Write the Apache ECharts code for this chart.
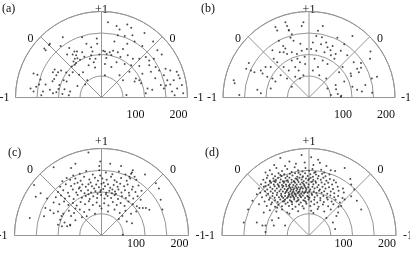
<!DOCTYPE html>
<html><head><meta charset="utf-8">
<script src="https://cdn.jsdelivr.net/npm/echarts@6/dist/echarts.min.js"></script>
<style>html,body{margin:0;padding:0;background:#fff}#c{width:410px;height:253px}</style>
</head><body><div id="c"></div>
<script>
// panel labels and tick labels
const panelLabels = ['(a)', '(b)', '(c)', '(d)'];
const angleTicks = [0, 45, 90, 135, 180];
const angleTickLabels = ['-1', '0', '+1', '0', '-1'];
const radiusTickLabels = [100, 200];
const radiusMax = 200;

// points as [horizontal component, vertical component] in radial units (0..200)
const pointsA = [
[-120,125],[-133,114],[-130,110],[-63,107],[-57,107],[-67,100],[-59,98],[-62,90],[-56,91],[-65,84],[-59,80],[-69,72],[-62,76],
[-24,117],[-21,107],[-24,98],[-14,90],[-18,82],[-27,90],[-109,65],[-113,59],[-105,52],[-110,43],[-114,38],[-101,59],[-94,63],
[-82,58],[-88,40],[-81,37],[-67,59],[-75,52],[-158,56],[-149,53],[-142,42],[-152,25],[-130,30],[-136,14],[-158,14],[-165,21],
[-98,29],[-86,19],[-91,8],[-73,14],[-76,5],[-52,53],[-43,59],[-33,40],[-56,27],[-38,30],[-113,10],[-120,18],[-11,137],
[-145,30],[-140,5],[-100,20],[-105,12],[-50,88],[-45,105],[-40,95],[-30,75],[-15,70],[-80,100],[-95,120],[-75,115],[-35,125],
[-10,125],[-5,100],[-45,140],[-90,140],[-122,122],
[35,166],[42,158],[69,162],[54,143],[77,130],[4,109],[12,101],[19,105],[27,109],[38,105],[50,113],[44,94],[61,98],[73,90],
[88,90],[103,94],[111,86],[122,90],[8,78],[23,71],[35,82],[54,78],[69,75],[88,73],[111,75],[126,71],[134,63],[149,67],[160,63],
[145,52],[153,40],[168,40],[179,52],[187,29],[176,21],[164,14],[80,44],[88,40],[77,37],[92,33],[107,21],[118,18],[103,10],
[138,29],[145,21],[42,52],[50,40],[8,52],[58,6],[175,60],[182,45],[190,10],[170,5],[160,30],[150,28],[8,107],[11,92],[23,99],
[130,110],[140,100],[95,120],[60,125],[30,130],[115,60],[125,45],[95,55],[65,60],[120,130],[100,150],[60,170],[15,175],[38,145],[72,145]
];
const pointsB = [
[-51,166],[-47,157],[-40,147],[-43,139],[-36,132],[-70,132],[-17,166],[-55,114],[-68,105],[-59,105],[-51,101],[-40,105],[-28,101],
[-17,109],[-5,113],[-27,90],[-40,86],[-21,82],[-9,78],[-32,71],[-24,63],[-47,63],[-59,71],[-74,82],[-82,90],[-89,71],[-101,71],
[-112,63],[-108,56],[-127,59],[-135,63],[-146,67],[-97,48],[-85,44],[-78,37],[-66,52],[-51,44],[-32,48],[-21,44],[-13,52],[-40,25],
[-89,21],[-120,18],[-112,10],[-173,33],[-162,6],[-175,40],[-140,80],[-78,164],[-74,156],[-55,175],[-47,156],[-13,175],
[32,166],[21,155],[17,143],[66,139],[101,143],[82,124],[9,128],[28,124],[40,128],[43,117],[55,120],[74,109],[62,101],[51,98],
[36,105],[17,109],[5,113],[13,90],[32,86],[43,78],[59,90],[21,71],[9,63],[24,52],[40,44],[89,98],[104,82],[112,67],[116,59],
[97,56],[78,71],[70,59],[82,37],[62,29],[51,6],[74,2],[142,90],[146,44],[158,48],[112,18],[123,14],[131,29],[101,25],[43,21],
[143,107],[121,80],[121,69],[98,50],[147,11],[67,8],[75,4],[63,19],[-60,120],[-20,125],[-85,110],[-10,95],[30,140],[50,110]
];
const pointsC = [
[-50,142],[-35,148],[-20,140],[-5,150],[-3,138],[10,145],[25,141],[40,147],[-65,138],[55,140],[70,145],[-80,132],
[-72,128],[-60,131],[-48,126],[-40,135],[-28,129],[-15,133],[-8,126],[2,131],[12,128],[22,135],[30,127],[45,132],[58,126],[66,131],[80,128],[-90,125],[-25,122],[5,121],[35,123],[-55,121],
[-95,112],[-82,118],[-70,114],[-62,119],[-50,111],[-44,117],[-36,112],[-30,118],[-22,113],[-12,117],[-6,111],[0,119],[8,113],[15,118],[20,110],[28,116],[37,112],[43,119],[52,113],[60,117],[72,112],[85,115],[-17,108],[-2,104],[25,106],
[-100,100],[-88,104],[-77,98],[-66,106],[-58,99],[-47,103],[-39,97],[-31,104],[-24,99],[-14,102],[-9,96],[-3,100],[4,107],[11,98],[18,103],[24,97],[31,101],[39,106],[46,99],[54,104],[63,98],[70,106],[78,100],[92,103],[-52,108],[33,96],
[-105,88],[-93,92],[-84,85],[-74,90],[-64,84],[-55,93],[-45,87],[-36,91],[-27,84],[-19,90],[-10,86],[-1,93],[7,85],[14,91],[22,86],[30,93],[38,84],[47,90],[56,86],[64,92],[73,85],[83,90],[90,82],[-30,95],[10,95],
[-110,76],[-97,72],[-86,78],[-76,70],[-66,75],[-57,69],[-48,77],[-38,72],[-29,79],[-20,70],[-11,76],[-4,68],[6,74],[16,69],[26,77],[35,70],[44,75],[53,68],[62,78],[72,72],[81,67],[-60,62],
[-118,58],[-100,55],[-88,50],[-75,57],[-63,52],[-50,60],[-40,54],[-28,59],[-15,50],[0,62],[15,55],[30,60],[42,52],[55,57],[68,50],[80,55],[-92,45],[-70,45],[48,45],
[-95,36],[-85,30],[-72,25],[-60,35],[-45,42],[40,38],[58,32],[70,28],[-100,25],
[-30,191],[-110,157],[-155,116],[-151,89],[-140,97],[72,150],[68,142],[76,135],[64,135],[132,108],[136,82],[95,63],[102,63],[110,59],[87,63],
[-129,63],[-132,44],[-110,51],[-91,21],[-79,21],[-72,23],[49,2],[-34,44],[-5,160],[-3,170],[-70,155],[-60,165],[20,165],[45,160],[-165,40],[125,120],[140,60],[-125,85],[100,140]
];
const pointsD = [
[-66,178],[-17,185],[21,174],[25,167],[-45,170],[-30,165],[5,180],[-55,160],[10,162],[-10,168],[40,160],[-80,162],
[-90,150],[-75,155],[-62,148],[-50,153],[-40,146],[-33,157],[-25,150],[-15,147],[-8,155],[0,149],[8,153],[15,146],[28,151],[35,145],[50,150],[82,155],[-100,145],[60,148],
[-95,138],[-85,141],[-78,136],[-70,143],[-63,137],[-57,141],[-50,136],[-44,142],[-38,138],[-32,143],[-27,135],[-20,140],[-14,136],[-9,143],[-3,137],[3,141],[9,135],[16,140],[22,137],[30,142],[38,136],[47,140],[-66,139],[-24,144],[12,144],
[-105,128],[-97,132],[-90,126],[-82,131],[-76,127],[-71,133],[-65,129],[-60,125],[-54,132],[-49,127],[-45,133],[-40,128],[-35,125],[-31,131],[-26,127],[-22,133],[-17,129],[-12,125],[-7,131],[-2,127],[4,133],[10,128],[15,125],[20,131],[27,128],[33,133],[40,126],[48,130],[57,127],[-52,126],[-28,130],[-15,134],[0,130],[-80,125],
[-110,118],[-100,122],[-93,116],[-87,121],[-81,117],[-77,123],[-72,118],[-67,122],[-62,116],[-58,121],[-53,117],[-48,123],[-44,118],[-40,122],[-36,116],[-32,121],[-28,117],[-24,123],[-20,118],[-16,122],[-11,116],[-6,121],[-1,117],[5,123],[10,118],[16,121],[22,116],[29,122],[36,118],[44,121],[53,117],[62,122],[-57,124],[-34,124],[-13,119],[-46,115],[-70,115],[8,124],[-90,124],
[-115,108],[-104,112],[-96,106],[-89,111],[-84,107],[-79,113],[-74,108],[-69,112],[-65,106],[-61,111],[-56,107],[-52,113],[-48,108],[-45,112],[-41,106],[-38,111],[-34,108],[-31,113],[-27,107],[-24,111],[-21,106],[-17,112],[-14,108],[-10,113],[-6,107],[-2,111],[3,106],[8,112],[13,108],[19,111],[25,106],[31,112],[38,108],[46,111],[55,107],[66,112],[78,108],[-59,114],[-43,109],[-29,110],[-19,109],[-8,110],[-36,105],[-50,105],
[-112,98],[-101,102],[-94,96],[-88,101],[-83,97],[-78,103],[-73,98],[-68,102],[-64,96],[-60,101],[-55,97],[-51,103],[-47,98],[-43,102],[-40,96],[-36,101],[-33,97],[-29,103],[-26,98],[-22,102],[-18,96],[-15,101],[-11,97],[-7,103],[-3,98],[1,102],[6,96],[11,101],[17,97],[23,103],[29,98],[35,102],[42,96],[50,101],[58,97],[68,103],[80,99],[-53,100],[-38,99],[-24,100],[-9,100],[-45,95],[-31,95],
[-108,88],[-98,92],[-90,86],[-84,91],[-79,87],[-74,93],[-69,88],[-64,92],[-59,86],[-55,91],[-50,87],[-46,93],[-42,88],[-38,92],[-34,86],[-30,91],[-26,87],[-22,93],[-18,88],[-14,92],[-9,86],[-4,91],[1,87],[7,93],[13,88],[19,92],[26,86],[33,91],[41,87],[49,92],[58,88],[67,91],[77,86],[-62,89],[-48,90],[-36,89],[-20,90],[-2,89],[97,90],
[-102,78],[-92,82],[-85,76],[-78,81],[-72,77],[-66,83],[-60,78],[-55,82],[-49,76],[-44,81],[-39,77],[-34,83],[-29,78],[-24,82],[-19,76],[-13,81],[-7,77],[-1,83],[5,78],[12,82],[19,76],[26,81],[34,77],[43,83],[52,78],[61,82],[71,76],[82,83],[-57,79],[-41,79],[-26,80],[-10,80],[97,117],
[-97,68],[-87,72],[-78,66],[-70,71],[-62,67],[-54,73],[-46,68],[-39,72],[-31,66],[-23,71],[-15,67],[-6,73],[3,68],[12,72],[22,66],[32,71],[44,67],[56,72],[68,66],[-115,72],[-73,64],[74,68],
[-90,58],[-75,55],[-62,60],[-50,53],[-38,61],[-25,56],[-12,62],[5,57],[20,61],[35,55],[50,60],[-104,53],[67,53],[63,45],[-45,50],[10,52],
[-100,23],[-55,23],[-81,23],[-70,40],[-85,35],[40,40],[55,30],[-120,30],[60,15],[-107,23],[-100,8],
[104,106],[-100,114],[-120,95],[-130,80],[-140,60],[-150,30],[95,130],[110,80],[120,60]
];
const panelPoints = [pointsA, pointsB, pointsC, pointsD];

// layout (pixels)
const polars = [
  { center: [101.5, 97.5], radius: 86, angleMargin: 3, radLabelMargin: -23, topPad: [0, 0, -7, 0], zeroPad: [0, 5, -10, 5], endPad: 3 },
  { center: [309, 97.5], radius: 86, angleMargin: 3, radLabelMargin: -23, topPad: [0, 0, -7, 0], zeroPad: [0, 5, -10, 5], endPad: 3 },
  { center: [101.5, 235.5], radius: 87, angleMargin: 7, radLabelMargin: -14.5, topPad: [0, 0, -6, 0], zeroPad: [0, 2, -7, 2], endPad: 0 },
  { center: [309, 235.5], radius: 87, angleMargin: 7, radLabelMargin: -14.5, topPad: [0, 0, -6, 0], zeroPad: [0, 2, -7, 2], endPad: 0 }
];
const titlePos = [[2, 3], [201, 3], [8, 147], [205, 147]];

const FONT = 'Liberation Serif';
const GRID = '#969696';
const toPolar = p => [Math.hypot(p[0], p[1]), Math.atan2(p[1], p[0]) * 180 / Math.PI];

const chart = echarts.init(document.getElementById('c'), null, { renderer: 'canvas' });
const option = {
  animation: false,
  backgroundColor: '#fff',
  title: panelLabels.map((t, i) => ({
    text: t, left: titlePos[i][0], top: titlePos[i][1], padding: 0,
    textStyle: { fontFamily: FONT, fontSize: 12, fontWeight: 'normal', color: '#111' }
  })),
  polar: polars.map(p => ({ center: p.center, radius: p.radius })),
  angleAxis: polars.map((p, i) => ({
    polarIndex: i, type: 'value', min: 0, max: 180, interval: 45,
    startAngle: 0, endAngle: 180, clockwise: false,
    axisLine: { show: true, lineStyle: { color: GRID, width: 1 } },
    axisTick: { show: false },
    splitLine: { show: true, lineStyle: { color: GRID, width: 1 } },
    axisLabel: {
      margin: p.angleMargin, color: '#111', fontFamily: FONT, fontSize: 12,
      formatter: v => {
        const k = angleTicks.indexOf(Math.round(v));
        if (k < 0) return '';
        const s = angleTickLabels[k];
        return k === 2 ? '{t|' + s + '}' : (k === 1 || k === 3 ? '{z|' + s + '}' : '{e|' + s + '}');
      },
      rich: {
        t: { fontFamily: FONT, fontSize: 12, color: '#111', padding: p.topPad },
        z: { fontFamily: FONT, fontSize: 12, color: '#111', padding: p.zeroPad },
        e: { fontFamily: FONT, fontSize: 12, color: '#111', padding: [0, p.endPad, 0, p.endPad] }
      }
    }
  })),
  radiusAxis: polars.map((p, i) => ({
    polarIndex: i, type: 'value', min: 0, max: radiusMax, interval: 50,
    axisLine: { show: false }, axisTick: { show: false },
    splitLine: { show: true, lineStyle: { color: GRID, width: 1 } },
    axisLabel: {
      margin: p.radLabelMargin, align: 'right', color: '#111', fontFamily: FONT, fontSize: 12,
      formatter: v => radiusTickLabels.indexOf(v) >= 0 ? String(v) : ''
    }
  })),
  series: panelPoints.map((pts, i) => ({
    type: 'scatter', coordinateSystem: 'polar', polarIndex: i,
    symbol: 'circle', symbolSize: 2, silent: true,
    itemStyle: { color: '#222' },
    data: pts.map(toPolar)
  }))
};
chart.setOption(option);
</script>
</body></html>
